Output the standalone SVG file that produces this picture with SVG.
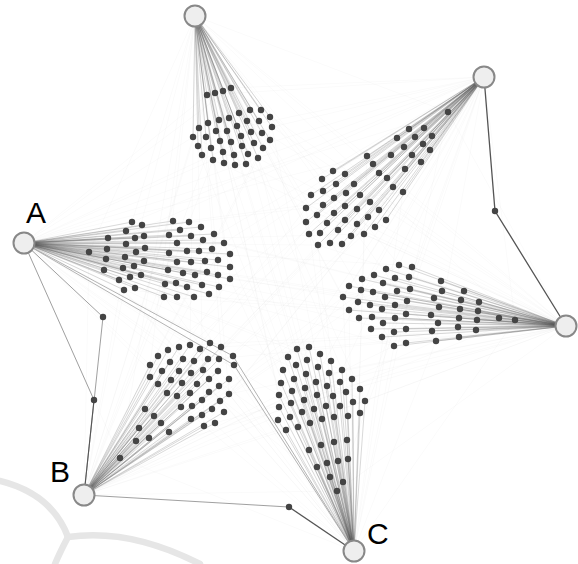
<svg xmlns="http://www.w3.org/2000/svg" width="578" height="564" viewBox="0 0 578 564">
<style>
.mesh{fill:none;stroke:#000;stroke-opacity:.035;stroke-width:.6}
.fan{fill:none;stroke:#555;stroke-opacity:.32;stroke-width:.7}
.edge{fill:none;stroke:#888;stroke-width:.8}
.edge-strong{fill:none;stroke:#555;stroke-width:1.3}
.dots circle{fill:#444}
.hub{fill:#eee;stroke:#888;stroke-width:2}
.label{font-family:"Liberation Sans",Arial,sans-serif;font-size:30px;fill:#000}
.mark{fill:none;stroke:#e6e6e6;stroke-width:6.5;stroke-linecap:round}
</style>
<rect width="578" height="564" fill="#fff"/>

<!-- faint cross links from every hub into the other clusters -->
<g id="mesh">
<path class="mesh" d="M195 16L448 112M195 16L403 192M195 16L364 234M195 16L318 245M195 16L306 208M195 16L367 156M195 16L89 252M195 16L132 222M195 16L224 243M195 16L230 279M195 16L164 297M195 16L124 290M195 16L399 265M195 16L515 320M195 16L436 341M195 16L394 346M195 16L349 310M195 16L343 297M195 16L120 458M195 16L150 365M195 16L190 345M195 16L221 347M195 16L229 394M195 16L204 426M195 16L297 349M195 16L342 370M195 16L365 401M195 16L337 491M195 16L286 430M195 16L279 395"/>
<path class="mesh" d="M484 77L207 95M484 77L231 88M484 77L272 127M484 77L258 158M484 77L213 160M484 77L193 137M484 77L89 252M484 77L132 222M484 77L224 243M484 77L230 279M484 77L164 297M484 77L124 290M484 77L399 265M484 77L515 320M484 77L436 341M484 77L394 346M484 77L349 310M484 77L343 297M484 77L120 458M484 77L150 365M484 77L190 345M484 77L221 347M484 77L229 394M484 77L204 426M484 77L297 349M484 77L342 370M484 77L365 401M484 77L337 491M484 77L286 430M484 77L279 395"/>
<path class="mesh" d="M24 243L207 95M24 243L231 88M24 243L272 127M24 243L258 158M24 243L213 160M24 243L193 137M24 243L448 112M24 243L403 192M24 243L364 234M24 243L318 245M24 243L306 208M24 243L367 156M24 243L399 265M24 243L515 320M24 243L436 341M24 243L394 346M24 243L349 310M24 243L343 297M24 243L120 458M24 243L150 365M24 243L190 345M24 243L221 347M24 243L229 394M24 243L204 426M24 243L297 349M24 243L342 370M24 243L365 401M24 243L337 491M24 243L286 430M24 243L279 395"/>
<path class="mesh" d="M566 326L207 95M566 326L231 88M566 326L272 127M566 326L258 158M566 326L213 160M566 326L193 137M566 326L448 112M566 326L403 192M566 326L364 234M566 326L318 245M566 326L306 208M566 326L367 156M566 326L89 252M566 326L132 222M566 326L224 243M566 326L230 279M566 326L164 297M566 326L124 290M566 326L120 458M566 326L150 365M566 326L190 345M566 326L221 347M566 326L229 394M566 326L204 426M566 326L297 349M566 326L342 370M566 326L365 401M566 326L337 491M566 326L286 430M566 326L279 395"/>
<path class="mesh" d="M84 495L207 95M84 495L231 88M84 495L272 127M84 495L258 158M84 495L213 160M84 495L193 137M84 495L448 112M84 495L403 192M84 495L364 234M84 495L318 245M84 495L306 208M84 495L367 156M84 495L89 252M84 495L132 222M84 495L224 243M84 495L230 279M84 495L164 297M84 495L124 290M84 495L399 265M84 495L515 320M84 495L436 341M84 495L394 346M84 495L349 310M84 495L343 297M84 495L297 349M84 495L342 370M84 495L365 401M84 495L337 491M84 495L286 430M84 495L279 395"/>
<path class="mesh" d="M354 551L207 95M354 551L231 88M354 551L272 127M354 551L258 158M354 551L213 160M354 551L193 137M354 551L448 112M354 551L403 192M354 551L364 234M354 551L318 245M354 551L306 208M354 551L367 156M354 551L89 252M354 551L132 222M354 551L224 243M354 551L230 279M354 551L164 297M354 551L124 290M354 551L399 265M354 551L515 320M354 551L436 341M354 551L394 346M354 551L349 310M354 551L343 297M354 551L120 458M354 551L150 365M354 551L190 345M354 551L221 347M354 551L229 394M354 551L204 426"/>
</g>

<!-- connectors: hub fans and routed hub-to-hub edges -->
<g id="connectors">
<path class="fan" d="M195 16L207 95M195 16L215 93M195 16L223 91M195 16L231 88M195 16L239 113M195 16L250 110M195 16L261 110M195 16L270 117M195 16L219 120M195 16L229 118M195 16L247 121M195 16L259 121M195 16L199 128M195 16L208 123M195 16L237 126M195 16L272 127M195 16L216 131M195 16L227 131M195 16L251 132M195 16L262 133M195 16L193 137M195 16L206 137M195 16L241 136M195 16L270 140M195 16L220 141M195 16L231 142M195 16L254 143M195 16L198 146M195 16L211 148M195 16L242 146M195 16L263 148M195 16L223 152M195 16L234 155M195 16L248 154M195 16L202 155M195 16L213 160M195 16L224 163M195 16L235 165M195 16L246 164M195 16L258 158"/>
<path class="fan" d="M484 77L448 112M484 77L409 129M484 77L424 128M484 77L397 138M484 77L415 137M484 77L432 136M484 77L404 147M484 77L423 144M484 77L367 156M484 77L391 155M484 77L412 155M484 77L430 150M484 77L373 164M484 77L421 162M484 77L333 171M484 77L345 174M484 77L379 173M484 77L405 169M484 77L322 179M484 77L336 184M484 77L354 184M484 77L387 178M484 77L393 187M484 77L403 192M484 77L311 195M484 77L323 191M484 77L334 198M484 77L346 193M484 77L360 195M484 77L306 208M484 77L323 205M484 77L345 206M484 77L370 202M484 77L317 215M484 77L334 213M484 77L357 209M484 77L379 210M484 77L306 222M484 77L327 223M484 77L345 220M484 77L368 217M484 77L386 220M484 77L309 234M484 77L320 233M484 77L338 230M484 77L357 224M484 77L375 227M484 77L351 236M484 77L364 234M484 77L318 245M484 77L330 243M484 77L342 244"/>
<path class="fan" d="M24 243L89 252M24 243L132 222M24 243L142 225M24 243L126 231M24 243L144 236M24 243L135 238M24 243L108 238M24 243L126 244M24 243L145 248M24 243L136 252M24 243L107 249M24 243L125 257M24 243L106 259M24 243L144 261M24 243L134 266M24 243L123 268M24 243L104 270M24 243L141 275M24 243L130 277M24 243L119 280M24 243L135 288M24 243L124 290M24 243L173 221M24 243L189 222M24 243L201 227M24 243L180 230M24 243L169 235M24 243L191 236M24 243L214 234M24 243L203 240M24 243L177 243M24 243L224 243M24 243L212 249M24 243L199 251M24 243L187 251M24 243L169 253M24 243L230 254M24 243L177 262M24 243L191 262M24 243L205 261M24 243L218 260M24 243L230 267M24 243L168 270M24 243L183 273M24 243L195 275M24 243L207 272M24 243L218 275M24 243L230 279M24 243L165 284M24 243L176 283M24 243L187 287M24 243L202 285M24 243L219 287M24 243L164 297M24 243L177 297M24 243L194 297M24 243L209 294"/>
<path class="fan" d="M566 326L399 265M566 326L412 267M566 326L386 269M566 326L374 275M566 326L362 279M566 326L395 278M566 326L409 277M566 326L383 283M566 326L349 286M566 326L361 290M566 326L373 292M566 326L397 291M566 326L410 289M566 326L385 297M566 326L343 297M566 326L358 302M566 326L370 305M566 326L407 301M566 326L395 305M566 326L349 310M566 326L382 309M566 326L359 318M566 326L372 317M566 326L395 318M566 326L406 314M566 326L383 323M566 326L371 329M566 326L394 332M566 326L406 329M566 326L382 337M566 326L394 346M566 326L406 343M566 326L441 281M566 326L464 291M566 326L442 291M566 326L434 298M566 326L461 300M566 326L479 302M566 326L439 307M566 326L460 309M566 326L478 311M566 326L431 315M566 326L459 318M566 326L477 320M566 326L499 318M566 326L515 320M566 326L438 323M566 326L458 327M566 326L476 330M566 326L432 331M566 326L459 337M566 326L436 341"/>
<path class="fan" d="M84 495L120 458M84 495L136 441M84 495L149 438M84 495L139 428M84 495L169 432M84 495L145 409M84 495L154 416M84 495L161 423M84 495L204 426M84 495L215 423M84 495L191 419M84 495L202 415M84 495L212 409M84 495L224 412M84 495L181 407M84 495L192 406M84 495L202 400M84 495L220 401M84 495L229 394M84 495L167 393M84 495L177 396M84 495L190 393M84 495L209 392M84 495L219 386M84 495L158 384M84 495L171 380M84 495L182 383M84 495L197 384M84 495L209 379M84 495L229 379M84 495L162 371M84 495L179 371M84 495L191 373M84 495L203 370M84 495L218 371M84 495L150 365M84 495L150 377M84 495L170 362M84 495L183 359M84 495L194 361M84 495L208 359M84 495L219 359M84 495L158 356M84 495L168 350M84 495L179 347M84 495L190 345M84 495L200 349M84 495L210 343M84 495L221 347"/>
<path class="fan" d="M354 551L297 349M354 551L309 347M354 551L288 357M354 551L320 354M354 551L296 365M354 551L307 360M354 551L331 361M354 551L283 370M354 551L318 367M354 551L342 370M354 551L306 374M354 551L329 373M354 551L281 383M354 551L294 379M354 551L316 382M354 551L340 382M354 551L352 379M354 551L292 391M354 551L305 388M354 551L327 386M354 551L346 392M354 551L360 389M354 551L279 395M354 551L317 395M354 551L333 396M354 551L304 400M354 551L291 403M354 551L353 402M354 551L365 401M354 551L279 407M354 551L326 406M354 551L340 406M354 551L314 409M354 551L302 412M354 551L360 413M354 551L290 417M354 551L278 420M354 551L322 419M354 551L334 417M354 551L348 416M354 551L310 423M354 551L286 430M354 551L298 427M354 551L309 450M354 551L321 445M354 551L334 442M354 551L347 440M354 551L317 467M354 551L327 463M354 551L338 461M354 551L348 459M354 551L330 477M354 551L343 482M354 551L337 491"/>
<path class="edge-strong" d="M484 77L495 211L566 326"/>
<path class="edge" d="M24 243L103 317L84 495"/>
<path class="edge" d="M24 243L94 400"/>
<path class="edge-strong" d="M94 400L84 495" style="stroke-width:1.1"/>
<path class="edge" d="M84 495L289 507"/>
<path class="edge-strong" d="M289 507L354 551"/>
<path class="edge" d="M24 243L233 356L354 551M24 243L234 365L354 551" style="stroke:#a0a0a0"/>
</g>

<!-- routing points on hub-to-hub edges -->
<g id="bends" class="dots">
<circle cx="495" cy="211" r="3.2"/><circle cx="103" cy="317" r="3.2"/><circle cx="94" cy="400" r="3.2"/><circle cx="289" cy="507" r="3.2"/><circle cx="233" cy="356" r="3.2"/><circle cx="234" cy="365" r="3.2"/>
</g>

<g id="cluster-top" class="dots">
<circle cx="207" cy="95" r="3.2"/><circle cx="215" cy="93" r="3.2"/><circle cx="223" cy="91" r="3.2"/><circle cx="231" cy="88" r="3.2"/><circle cx="239" cy="113" r="3.2"/><circle cx="250" cy="110" r="3.2"/><circle cx="261" cy="110" r="3.2"/><circle cx="270" cy="117" r="3.2"/><circle cx="219" cy="120" r="3.2"/><circle cx="229" cy="118" r="3.2"/><circle cx="247" cy="121" r="3.2"/><circle cx="259" cy="121" r="3.2"/><circle cx="199" cy="128" r="3.2"/><circle cx="208" cy="123" r="3.2"/><circle cx="237" cy="126" r="3.2"/><circle cx="272" cy="127" r="3.2"/><circle cx="216" cy="131" r="3.2"/><circle cx="227" cy="131" r="3.2"/><circle cx="251" cy="132" r="3.2"/><circle cx="262" cy="133" r="3.2"/><circle cx="193" cy="137" r="3.2"/><circle cx="206" cy="137" r="3.2"/><circle cx="241" cy="136" r="3.2"/><circle cx="270" cy="140" r="3.2"/><circle cx="220" cy="141" r="3.2"/><circle cx="231" cy="142" r="3.2"/><circle cx="254" cy="143" r="3.2"/><circle cx="198" cy="146" r="3.2"/><circle cx="211" cy="148" r="3.2"/><circle cx="242" cy="146" r="3.2"/><circle cx="263" cy="148" r="3.2"/><circle cx="223" cy="152" r="3.2"/><circle cx="234" cy="155" r="3.2"/><circle cx="248" cy="154" r="3.2"/><circle cx="202" cy="155" r="3.2"/><circle cx="213" cy="160" r="3.2"/><circle cx="224" cy="163" r="3.2"/><circle cx="235" cy="165" r="3.2"/><circle cx="246" cy="164" r="3.2"/><circle cx="258" cy="158" r="3.2"/>
</g>

<g id="cluster-top-right" class="dots">
<circle cx="448" cy="112" r="3.2"/><circle cx="409" cy="129" r="3.2"/><circle cx="424" cy="128" r="3.2"/><circle cx="397" cy="138" r="3.2"/><circle cx="415" cy="137" r="3.2"/><circle cx="432" cy="136" r="3.2"/><circle cx="404" cy="147" r="3.2"/><circle cx="423" cy="144" r="3.2"/><circle cx="367" cy="156" r="3.2"/><circle cx="391" cy="155" r="3.2"/><circle cx="412" cy="155" r="3.2"/><circle cx="430" cy="150" r="3.2"/><circle cx="373" cy="164" r="3.2"/><circle cx="421" cy="162" r="3.2"/><circle cx="333" cy="171" r="3.2"/><circle cx="345" cy="174" r="3.2"/><circle cx="379" cy="173" r="3.2"/><circle cx="405" cy="169" r="3.2"/><circle cx="322" cy="179" r="3.2"/><circle cx="336" cy="184" r="3.2"/><circle cx="354" cy="184" r="3.2"/><circle cx="387" cy="178" r="3.2"/><circle cx="393" cy="187" r="3.2"/><circle cx="403" cy="192" r="3.2"/><circle cx="311" cy="195" r="3.2"/><circle cx="323" cy="191" r="3.2"/><circle cx="334" cy="198" r="3.2"/><circle cx="346" cy="193" r="3.2"/><circle cx="360" cy="195" r="3.2"/><circle cx="306" cy="208" r="3.2"/><circle cx="323" cy="205" r="3.2"/><circle cx="345" cy="206" r="3.2"/><circle cx="370" cy="202" r="3.2"/><circle cx="317" cy="215" r="3.2"/><circle cx="334" cy="213" r="3.2"/><circle cx="357" cy="209" r="3.2"/><circle cx="379" cy="210" r="3.2"/><circle cx="306" cy="222" r="3.2"/><circle cx="327" cy="223" r="3.2"/><circle cx="345" cy="220" r="3.2"/><circle cx="368" cy="217" r="3.2"/><circle cx="386" cy="220" r="3.2"/><circle cx="309" cy="234" r="3.2"/><circle cx="320" cy="233" r="3.2"/><circle cx="338" cy="230" r="3.2"/><circle cx="357" cy="224" r="3.2"/><circle cx="375" cy="227" r="3.2"/><circle cx="351" cy="236" r="3.2"/><circle cx="364" cy="234" r="3.2"/><circle cx="318" cy="245" r="3.2"/><circle cx="330" cy="243" r="3.2"/><circle cx="342" cy="244" r="3.2"/>
</g>

<g id="cluster-a" class="dots">
<circle cx="89" cy="252" r="3.2"/><circle cx="132" cy="222" r="3.2"/><circle cx="142" cy="225" r="3.2"/><circle cx="126" cy="231" r="3.2"/><circle cx="144" cy="236" r="3.2"/><circle cx="135" cy="238" r="3.2"/><circle cx="108" cy="238" r="3.2"/><circle cx="126" cy="244" r="3.2"/><circle cx="145" cy="248" r="3.2"/><circle cx="136" cy="252" r="3.2"/><circle cx="107" cy="249" r="3.2"/><circle cx="125" cy="257" r="3.2"/><circle cx="106" cy="259" r="3.2"/><circle cx="144" cy="261" r="3.2"/><circle cx="134" cy="266" r="3.2"/><circle cx="123" cy="268" r="3.2"/><circle cx="104" cy="270" r="3.2"/><circle cx="141" cy="275" r="3.2"/><circle cx="130" cy="277" r="3.2"/><circle cx="119" cy="280" r="3.2"/><circle cx="135" cy="288" r="3.2"/><circle cx="124" cy="290" r="3.2"/><circle cx="173" cy="221" r="3.2"/><circle cx="189" cy="222" r="3.2"/><circle cx="201" cy="227" r="3.2"/><circle cx="180" cy="230" r="3.2"/><circle cx="169" cy="235" r="3.2"/><circle cx="191" cy="236" r="3.2"/><circle cx="214" cy="234" r="3.2"/><circle cx="203" cy="240" r="3.2"/><circle cx="177" cy="243" r="3.2"/><circle cx="224" cy="243" r="3.2"/><circle cx="212" cy="249" r="3.2"/><circle cx="199" cy="251" r="3.2"/><circle cx="187" cy="251" r="3.2"/><circle cx="169" cy="253" r="3.2"/><circle cx="230" cy="254" r="3.2"/><circle cx="177" cy="262" r="3.2"/><circle cx="191" cy="262" r="3.2"/><circle cx="205" cy="261" r="3.2"/><circle cx="218" cy="260" r="3.2"/><circle cx="230" cy="267" r="3.2"/><circle cx="168" cy="270" r="3.2"/><circle cx="183" cy="273" r="3.2"/><circle cx="195" cy="275" r="3.2"/><circle cx="207" cy="272" r="3.2"/><circle cx="218" cy="275" r="3.2"/><circle cx="230" cy="279" r="3.2"/><circle cx="165" cy="284" r="3.2"/><circle cx="176" cy="283" r="3.2"/><circle cx="187" cy="287" r="3.2"/><circle cx="202" cy="285" r="3.2"/><circle cx="219" cy="287" r="3.2"/><circle cx="164" cy="297" r="3.2"/><circle cx="177" cy="297" r="3.2"/><circle cx="194" cy="297" r="3.2"/><circle cx="209" cy="294" r="3.2"/>
</g>

<g id="cluster-right" class="dots">
<circle cx="399" cy="265" r="3.2"/><circle cx="412" cy="267" r="3.2"/><circle cx="386" cy="269" r="3.2"/><circle cx="374" cy="275" r="3.2"/><circle cx="362" cy="279" r="3.2"/><circle cx="395" cy="278" r="3.2"/><circle cx="409" cy="277" r="3.2"/><circle cx="383" cy="283" r="3.2"/><circle cx="349" cy="286" r="3.2"/><circle cx="361" cy="290" r="3.2"/><circle cx="373" cy="292" r="3.2"/><circle cx="397" cy="291" r="3.2"/><circle cx="410" cy="289" r="3.2"/><circle cx="385" cy="297" r="3.2"/><circle cx="343" cy="297" r="3.2"/><circle cx="358" cy="302" r="3.2"/><circle cx="370" cy="305" r="3.2"/><circle cx="407" cy="301" r="3.2"/><circle cx="395" cy="305" r="3.2"/><circle cx="349" cy="310" r="3.2"/><circle cx="382" cy="309" r="3.2"/><circle cx="359" cy="318" r="3.2"/><circle cx="372" cy="317" r="3.2"/><circle cx="395" cy="318" r="3.2"/><circle cx="406" cy="314" r="3.2"/><circle cx="383" cy="323" r="3.2"/><circle cx="371" cy="329" r="3.2"/><circle cx="394" cy="332" r="3.2"/><circle cx="406" cy="329" r="3.2"/><circle cx="382" cy="337" r="3.2"/><circle cx="394" cy="346" r="3.2"/><circle cx="406" cy="343" r="3.2"/><circle cx="441" cy="281" r="3.2"/><circle cx="464" cy="291" r="3.2"/><circle cx="442" cy="291" r="3.2"/><circle cx="434" cy="298" r="3.2"/><circle cx="461" cy="300" r="3.2"/><circle cx="479" cy="302" r="3.2"/><circle cx="439" cy="307" r="3.2"/><circle cx="460" cy="309" r="3.2"/><circle cx="478" cy="311" r="3.2"/><circle cx="431" cy="315" r="3.2"/><circle cx="459" cy="318" r="3.2"/><circle cx="477" cy="320" r="3.2"/><circle cx="499" cy="318" r="3.2"/><circle cx="515" cy="320" r="3.2"/><circle cx="438" cy="323" r="3.2"/><circle cx="458" cy="327" r="3.2"/><circle cx="476" cy="330" r="3.2"/><circle cx="432" cy="331" r="3.2"/><circle cx="459" cy="337" r="3.2"/><circle cx="436" cy="341" r="3.2"/>
</g>

<g id="cluster-b" class="dots">
<circle cx="120" cy="458" r="3.2"/><circle cx="136" cy="441" r="3.2"/><circle cx="149" cy="438" r="3.2"/><circle cx="139" cy="428" r="3.2"/><circle cx="169" cy="432" r="3.2"/><circle cx="145" cy="409" r="3.2"/><circle cx="154" cy="416" r="3.2"/><circle cx="161" cy="423" r="3.2"/><circle cx="204" cy="426" r="3.2"/><circle cx="215" cy="423" r="3.2"/><circle cx="191" cy="419" r="3.2"/><circle cx="202" cy="415" r="3.2"/><circle cx="212" cy="409" r="3.2"/><circle cx="224" cy="412" r="3.2"/><circle cx="181" cy="407" r="3.2"/><circle cx="192" cy="406" r="3.2"/><circle cx="202" cy="400" r="3.2"/><circle cx="220" cy="401" r="3.2"/><circle cx="229" cy="394" r="3.2"/><circle cx="167" cy="393" r="3.2"/><circle cx="177" cy="396" r="3.2"/><circle cx="190" cy="393" r="3.2"/><circle cx="209" cy="392" r="3.2"/><circle cx="219" cy="386" r="3.2"/><circle cx="158" cy="384" r="3.2"/><circle cx="171" cy="380" r="3.2"/><circle cx="182" cy="383" r="3.2"/><circle cx="197" cy="384" r="3.2"/><circle cx="209" cy="379" r="3.2"/><circle cx="229" cy="379" r="3.2"/><circle cx="162" cy="371" r="3.2"/><circle cx="179" cy="371" r="3.2"/><circle cx="191" cy="373" r="3.2"/><circle cx="203" cy="370" r="3.2"/><circle cx="218" cy="371" r="3.2"/><circle cx="150" cy="365" r="3.2"/><circle cx="150" cy="377" r="3.2"/><circle cx="170" cy="362" r="3.2"/><circle cx="183" cy="359" r="3.2"/><circle cx="194" cy="361" r="3.2"/><circle cx="208" cy="359" r="3.2"/><circle cx="219" cy="359" r="3.2"/><circle cx="158" cy="356" r="3.2"/><circle cx="168" cy="350" r="3.2"/><circle cx="179" cy="347" r="3.2"/><circle cx="190" cy="345" r="3.2"/><circle cx="200" cy="349" r="3.2"/><circle cx="210" cy="343" r="3.2"/><circle cx="221" cy="347" r="3.2"/>
</g>

<g id="cluster-c" class="dots">
<circle cx="297" cy="349" r="3.2"/><circle cx="309" cy="347" r="3.2"/><circle cx="288" cy="357" r="3.2"/><circle cx="320" cy="354" r="3.2"/><circle cx="296" cy="365" r="3.2"/><circle cx="307" cy="360" r="3.2"/><circle cx="331" cy="361" r="3.2"/><circle cx="283" cy="370" r="3.2"/><circle cx="318" cy="367" r="3.2"/><circle cx="342" cy="370" r="3.2"/><circle cx="306" cy="374" r="3.2"/><circle cx="329" cy="373" r="3.2"/><circle cx="281" cy="383" r="3.2"/><circle cx="294" cy="379" r="3.2"/><circle cx="316" cy="382" r="3.2"/><circle cx="340" cy="382" r="3.2"/><circle cx="352" cy="379" r="3.2"/><circle cx="292" cy="391" r="3.2"/><circle cx="305" cy="388" r="3.2"/><circle cx="327" cy="386" r="3.2"/><circle cx="346" cy="392" r="3.2"/><circle cx="360" cy="389" r="3.2"/><circle cx="279" cy="395" r="3.2"/><circle cx="317" cy="395" r="3.2"/><circle cx="333" cy="396" r="3.2"/><circle cx="304" cy="400" r="3.2"/><circle cx="291" cy="403" r="3.2"/><circle cx="353" cy="402" r="3.2"/><circle cx="365" cy="401" r="3.2"/><circle cx="279" cy="407" r="3.2"/><circle cx="326" cy="406" r="3.2"/><circle cx="340" cy="406" r="3.2"/><circle cx="314" cy="409" r="3.2"/><circle cx="302" cy="412" r="3.2"/><circle cx="360" cy="413" r="3.2"/><circle cx="290" cy="417" r="3.2"/><circle cx="278" cy="420" r="3.2"/><circle cx="322" cy="419" r="3.2"/><circle cx="334" cy="417" r="3.2"/><circle cx="348" cy="416" r="3.2"/><circle cx="310" cy="423" r="3.2"/><circle cx="286" cy="430" r="3.2"/><circle cx="298" cy="427" r="3.2"/><circle cx="309" cy="450" r="3.2"/><circle cx="321" cy="445" r="3.2"/><circle cx="334" cy="442" r="3.2"/><circle cx="347" cy="440" r="3.2"/><circle cx="317" cy="467" r="3.2"/><circle cx="327" cy="463" r="3.2"/><circle cx="338" cy="461" r="3.2"/><circle cx="348" cy="459" r="3.2"/><circle cx="330" cy="477" r="3.2"/><circle cx="343" cy="482" r="3.2"/><circle cx="337" cy="491" r="3.2"/>
</g>

<!-- hubs -->
<g id="hub-top"><circle class="hub" cx="195" cy="16" r="10.5"/></g>
<g id="hub-top-right"><circle class="hub" cx="484" cy="77" r="10.5"/></g>
<g id="hub-right"><circle class="hub" cx="566" cy="326" r="10.5"/></g>
<g id="hub-a"><circle class="hub" cx="24" cy="243" r="10.5"/><text class="label" x="26" y="223">A</text></g>
<g id="hub-b"><circle class="hub" cx="84" cy="495" r="10.5"/><text class="label" x="50" y="482">B</text></g>
<g id="hub-c"><circle class="hub" cx="354" cy="551" r="10.5"/><text class="label" x="367" y="544">C</text></g>

<!-- background mark, lower left -->
<g id="mark">
<path class="mark" d="M0 481Q52 494 68 537"/>
<path class="mark" d="M68 537Q60 552 55 564"/>
<path class="mark" d="M68 537Q130 528 200 564"/>
</g>
</svg>
